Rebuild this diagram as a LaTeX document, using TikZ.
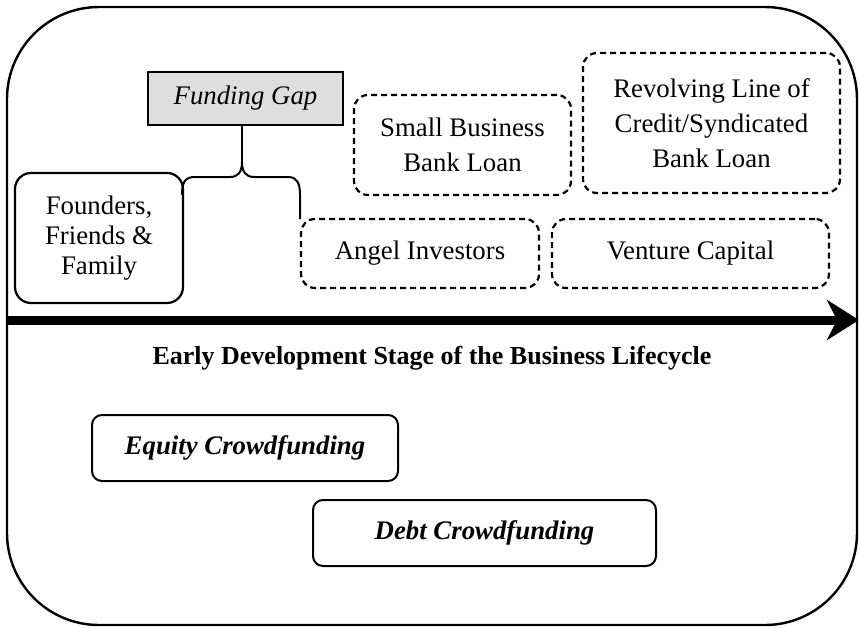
\documentclass[tikz,border=0pt]{standalone}
\usepackage{fontspec}
\setmainfont{Liberation Serif}
\usepackage{tikz}
\usetikzlibrary{arrows.meta}
\usepackage{xcolor}
\definecolor{gapGrey}{RGB}{222, 222, 222}

\begin{document}
\begin{tikzpicture}
    [
		x=0.5pt, y=-0.5pt,
		font=\fontsize{13.4}{17.5}\selectfont,
		founder/.style={
			draw, line width=1.1pt, rounded corners=8pt, align=center, inner sep=0pt
		},
		lender/.style={
			draw, line width=1.1pt, dash pattern=on 3pt off 2pt, rounded corners=7pt,
			align=center, inner sep=0pt
		},
		crowd/.style={
			draw, line width=1pt, rounded corners=5pt, align=center, inner sep=0pt
		},
		gapbox/.style={
			draw, line width=1.2pt, fill=gapGrey, align=center, inner sep=0pt
		},
		bracepath/.style={line width=1pt, line join=round},
		timeline/.style={
			line width=4.5pt, -{Stealth[length=16pt, width=20pt, inset=5pt]}
		}
	]

\useasboundingbox (0,0) rectangle (859,628);

% Frame
\draw [line width=1.2pt, rounded corners=46pt] (7,7) rectangle (857,625);

% Sources of funding
\node (gap) [gapbox, minimum width=97.5pt, minimum height=26.5pt] at (245.5,98.5)
	{\textit{Funding Gap}};
\node (fff) [founder, minimum width=84pt, minimum height=65pt,
	font=\fontsize{13.4}{14.8}\selectfont] at (99,238) {Founders,\\Friends \&\\Family};
\node (small) [lender, minimum width=108.5pt, minimum height=50pt] at (462.5,145)
	{Small Business\\Bank Loan};
\node (revolve) [lender, minimum width=128.5pt, minimum height=70pt] at (711.5,123)
	{Revolving Line of\\Credit/Syndicated\\Bank Loan};
\node (angel) [lender, minimum width=119pt, minimum height=34.5pt] at (420,253.5)
	{Angel Investors};
\node (venture) [lender, minimum width=138.5pt, minimum height=34.5pt] at (690.5,253.5)
	{Venture Capital};

% Timeline
\coordinate (tStart) at (7,320);
\coordinate (tEnd) at (859,320);
\draw [timeline] (tStart) -- (tEnd);
\node (stage) [font=\fontsize{13}{15}\selectfont] at (432,358)
	{\textbf{Early Development Stage of the Business Lifecycle}};

% Crowdfunding
\node (equity) [crowd, minimum width=153pt, minimum height=33pt] at (245,448)
	{\textbf{\textit{Equity Crowdfunding}}};
\node (debt) [crowd, minimum width=171.5pt, minimum height=33pt] at (484.5,533)
	{\textbf{\textit{Debt Crowdfunding}}};

% Brace under the funding gap
\coordinate (braceL) at (182,195);
\coordinate (cusp) at (242,162);
\coordinate (braceR) at (300,219);
\draw [bracepath] (cusp) -- (cusp |- gap.south);
\draw [bracepath] (braceL) .. controls (182,182) and (185,177) .. (195,177)
	-- (230,177) .. controls (238,177) and (242,172) .. (cusp)
	.. controls (242,172) and (246,177) .. (254,177)
	-- (288,177) .. controls (297,177) and (300,183) .. (300,195) -- (braceR);

\end{tikzpicture}
\end{document}
